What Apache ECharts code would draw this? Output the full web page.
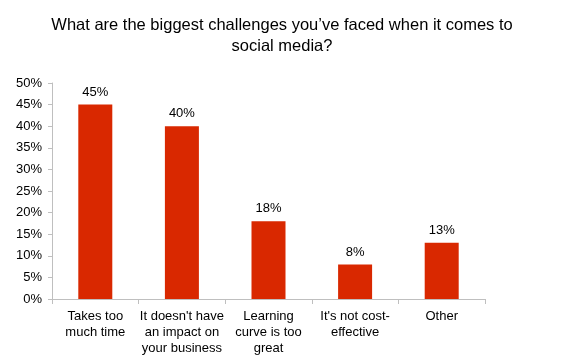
<!DOCTYPE html>
<html><head><meta charset="utf-8">
<script src="https://cdn.jsdelivr.net/npm/echarts@6/dist/echarts.min.js"></script>
<style>html,body{margin:0;padding:0;background:#fff}#c{width:564px;height:363px}</style>
</head><body><div id="c"></div>
<script>
const titleText = "What are the biggest challenges you\u2019ve faced when it comes to\nsocial media?";
const categories = ["Takes too\nmuch time", "It doesn't have\nan impact on\nyour business", "Learning\ncurve is too\ngreat", "It's not cost-\neffective", "Other"];
const values = [45, 40, 18, 8, 13];
const yTicks = {min: 0, max: 50, interval: 5};

const chart = echarts.init(document.getElementById('c'), null, {renderer: 'canvas'});
chart.setOption({
  animation: false,
  backgroundColor: '#fff',
  textStyle: {fontFamily: 'Liberation Sans, Arial, sans-serif'},
  title: {
    text: titleText, left: 277, top: 10, textAlign: 'center',
    textStyle: {fontSize: 16.5, fontWeight: 'normal', color: '#000', lineHeight: 21, fontFamily: 'Liberation Sans, Arial, sans-serif'}
  },
  grid: {left: 52, right: 79, top: 83, bottom: 64, containLabel: false},
  xAxis: {
    type: 'category', data: categories,
    axisLine: {lineStyle: {color: '#bfbfbf', width: 1}},
    axisTick: {show: true, length: 5, lineStyle: {color: '#bfbfbf'}},
    axisLabel: {color: '#000', fontSize: 13, lineHeight: 16, margin: 9, interval: 0, fontFamily: 'Liberation Sans, Arial, sans-serif'}
  },
  yAxis: {
    type: 'value', min: yTicks.min, max: yTicks.max, interval: yTicks.interval,
    axisLine: {show: true, lineStyle: {color: '#bfbfbf', width: 1}},
    axisTick: {show: true, length: 4, lineStyle: {color: '#bfbfbf'}},
    splitLine: {show: false},
    axisLabel: {color: '#000', fontSize: 13, margin: 10, formatter: v => v + '%', fontFamily: 'Liberation Sans, Arial, sans-serif'}
  },
  series: [{
    type: 'bar', data: values, barWidth: 34,
    itemStyle: {color: '#d92800'},
    label: {show: true, position: 'top', distance: 6, color: '#000', fontSize: 13, formatter: p => p.value + '%', fontFamily: 'Liberation Sans, Arial, sans-serif'}
  }]
});
</script></body></html>
